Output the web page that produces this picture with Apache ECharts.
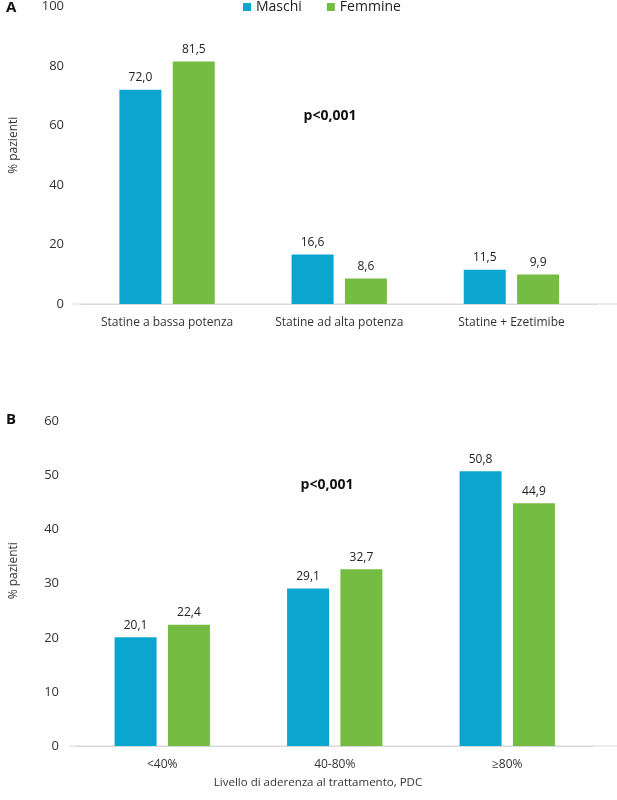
<!DOCTYPE html>
<html>
<head>
<meta charset="utf-8">
<script src="https://cdn.jsdelivr.net/npm/echarts@6/dist/echarts.min.js"></script>
<style>
html,body{margin:0;padding:0;background:#fff;}
#chart{width:617px;height:800px;}
</style>
</head>
<body>
<div id="chart"></div>
<script>
// ---- data ----
var seriesNames = ['Maschi', 'Femmine'];
var catA = ['Statine a bassa potenza', 'Statine ad alta potenza', 'Statine + Ezetimibe'];
var maschiA = [72.0, 16.6, 11.5];
var femmineA = [81.5, 8.6, 9.9];
var catB = ['<40%', '40-80%', '\u226580%'];
var maschiB = [20.1, 29.1, 50.8];
var femmineB = [22.4, 32.7, 44.9];
var yTitle = '% pazienti';
var xTitleB = 'Livello di aderenza al trattamento, PDC';
var pText = 'p<0,001';

var BLUE = '#0aa6cf', GREEN = '#75bc43';
var FONT = 'Open Sans';

function fmt(p){ return p.value.toFixed(1).replace('.', ','); }

function barSeries(name, data, idx, color){
  return {
    name: name, type: 'bar', data: data,
    xAxisIndex: idx, yAxisIndex: idx,
    barWidth: 42, barGap: '27%',
    itemStyle: {color: color},
    label: {show: true, position: 'top', distance: 6, formatter: fmt,
            fontFamily: FONT, fontSize: 12, color: '#222'},
    emphasis: {disabled: true}
  };
}

function xAx(idx, cats){
  return {
    type: 'category', gridIndex: idx, data: cats,
    axisLine: {lineStyle: {color: '#d9d9d9', width: 1}},
    axisTick: {show: false},
    axisLabel: {fontFamily: FONT, fontSize: 12, color: '#333', margin: 13, interval: 0}
  };
}
function yAx(idx, max, interval, pad, gap){
  return {
    type: 'value', gridIndex: idx, min: 0, max: max, interval: interval,
    splitLine: {show: false}, axisLine: {show: false}, axisTick: {show: false},
    axisLabel: {fontFamily: FONT, fontSize: 13, color: '#333', margin: 17},
    name: yTitle, nameLocation: 'middle', nameRotate: 90, nameGap: gap,
    nameTextStyle: {fontFamily: FONT, fontSize: 12, color: '#333', padding: [0, 0, 0, pad]}
  };
}

var chart = echarts.init(document.getElementById('chart'));
chart.setOption({
  animation: false,
  backgroundColor: '#fff',
  legend: {
    data: seriesNames, left: 243, top: 0, padding: 0,
    icon: 'rect', itemWidth: 8, itemHeight: 8, itemGap: 25,
    textStyle: {fontFamily: FONT, fontSize: 14, color: '#222'},
    selectedMode: false
  },
  grid: [
    {left: 76.5, top: 6, width: 521, height: 298},
    {left: 72.5, top: 421.5, width: 521, height: 324.5}
  ],
  xAxis: [xAx(0, catA), xAx(1, catB)],
  yAxis: [yAx(0, 100, 20, 20, 61), yAx(1, 60, 10, 26, 56)],
  series: [
    barSeries(seriesNames[0], maschiA, 0, BLUE),
    barSeries(seriesNames[1], femmineA, 0, GREEN),
    barSeries(seriesNames[0], maschiB, 1, BLUE),
    barSeries(seriesNames[1], femmineB, 1, GREEN)
  ],
  graphic: [
    {type: 'line', z: -1, shape: {x1: 72.5, y1: 304, x2: 617, y2: 304}, style: {stroke: '#d9d9d9', lineWidth: 1}},
    {type: 'line', z: -1, shape: {x1: 69, y1: 746, x2: 617, y2: 746}, style: {stroke: '#d9d9d9', lineWidth: 1}},
    {type: 'text', left: 6, top: 0, style: {text: 'A', font: 'bold 15px "Open Sans"', fill: '#111'}},
    {type: 'text', left: 6, top: 412, style: {text: 'B', font: 'bold 15px "Open Sans"', fill: '#111'}},
    {type: 'text', x: 330, y: 116, style: {text: pText, font: 'bold 14px "Open Sans"', fill: '#111', align: 'center', verticalAlign: 'middle'}},
    {type: 'text', x: 327, y: 485, style: {text: pText, font: 'bold 14px "Open Sans"', fill: '#111', align: 'center', verticalAlign: 'middle'}},
    {type: 'text', x: 318, y: 783, style: {text: xTitleB, font: '11.5px "Open Sans"', fill: '#333', align: 'center', verticalAlign: 'middle'}}
  ]
});
</script>
</body>
</html>
